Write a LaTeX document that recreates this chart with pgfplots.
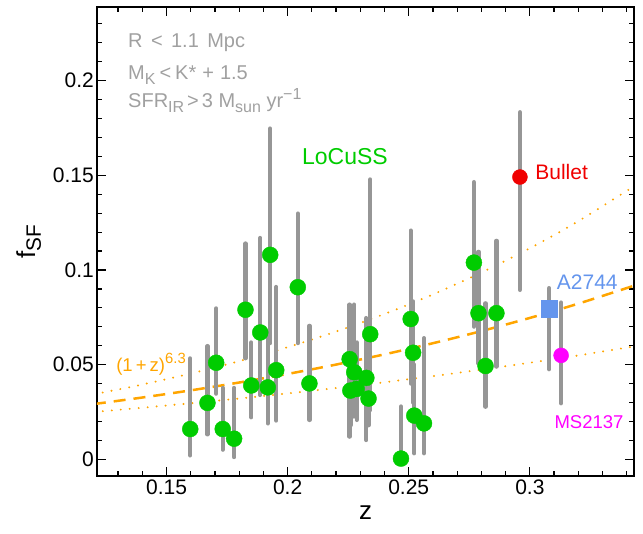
\documentclass[border=0pt]{standalone}
\usepackage{fontspec}
\setmainfont{Liberation Sans}
\usepackage{graphicx}
\usepackage{pgfplots}
\usepackage{pgfplotstable}
\pgfplotsset{compat=1.18}
\definecolor{ptgreen}{RGB}{0,204,0}
\definecolor{bargrey}{RGB}{150,150,150}
\definecolor{txtgrey}{RGB}{160,160,160}
\definecolor{curveorange}{RGB}{255,165,0}
\definecolor{bulletred}{RGB}{240,0,0}
\definecolor{ablue}{RGB}{100,149,237}
\definecolor{msmag}{RGB}{255,0,255}
\newcommand{\sub}[1]{\raisebox{-0.22em}{\scalebox{0.8}{#1}}}
\newcommand{\sups}[1]{\raisebox{0.42em}{\scalebox{0.8}{#1}}}

\pgfplotstableread{
z f lo hi
0.1598 0.0160 0.0021 0.0533
0.1669 0.0298 0.0132 0.0598
0.1705 0.0510 0.0347 0.0797
0.1732 0.0160 0.0051 0.0377
0.1779 0.0109 0.0012 0.0377
0.1826 0.0790 0.0534 0.1140
0.1850 0.0390 0.0222 0.0617
0.1887 0.0670 0.0340 0.1169
0.1918 0.0380 0.0190 0.0649
0.1928 0.1080 0.0614 0.1747
0.1953 0.0471 0.0205 0.0910
0.2042 0.0909 0.0614 0.1298
0.2090 0.0401 0.0208 0.0705
0.2256 0.0529 0.0120 0.0817
0.2275 0.0460 0.0226 0.0817
0.2259 0.0363 0.0180 0.0700
0.2285 0.0372 0.0208 0.0617
0.2325 0.0430 0.0102 0.0746
0.2334 0.0321 0.0180 0.0600
0.2341 0.0661 0.0260 0.1478
0.2468 0.0004 0.0004 0.0279
0.2508 0.0741 0.0400 0.1208
0.2518 0.0563 0.0300 0.0834
0.2523 0.0231 0.0032 0.0500
0.2563 0.0190 0.0032 0.0640
0.2769 0.1039 0.0701 0.1464
0.2788 0.0772 0.0507 0.1096
0.2817 0.0493 0.0278 0.0824
0.2862 0.0772 0.0490 0.1154
}\locuss

\pgfplotstableread{
z f lo hi
0.2959 0.1491 0.0895 0.1833
0.3080 0.0796 0.0476 0.0904
0.3129 0.0549 0.0296 0.0828
}\others

\begin{document}
\begin{tikzpicture}
\begin{axis}[
  at={(0pt,0pt)}, anchor=south west,
  scale only axis, width=537pt, height=469pt,
  xmin=0.1213, xmax=0.343, ymin=-0.0088, ymax=0.2389,
  xtick={0.15,0.2,0.25,0.3}, xticklabels={0.15,0.2,0.25,0.3},
  ytick={0,0.05,0.1,0.15,0.2}, yticklabels={0,0.05,0.1,0.15,0.2},
  minor xtick={0.13,0.14,0.16,0.17,0.18,0.19,0.21,0.22,0.23,0.24,0.26,0.27,0.28,0.29,0.31,0.32,0.33,0.34},
  minor ytick={0.01,0.02,0.03,0.04,0.06,0.07,0.08,0.09,0.11,0.12,0.13,0.14,0.16,0.17,0.18,0.19,0.21,0.22,0.23},
  tick align=inside, xtick pos=both, ytick pos=both,
  major tick length=9pt, minor tick length=5pt,
  every tick/.style={black, line width=1.2pt},
  axis line style={line width=1.8pt},
  ticklabel style={font=\fontsize{21}{24}\selectfont},
  yticklabel style={inner sep=3pt},
  xlabel={z}, ylabel={f\sub{SF}},
  xlabel style={font=\fontsize{26}{30}\selectfont, at={(axis description cs:0.5,-0.079)}, anchor=center},
  ylabel style={font=\fontsize{26}{30}\selectfont, at={(axis description cs:-0.127,0.5)}, anchor=center, rotate=0},
  clip=true,
]
% fit curves
\addplot[curveorange, line width=2.2pt, dash pattern=on 0pt off 9pt, line cap=round, smooth] coordinates {
(0.12,0.03435) (0.14,0.03950) (0.16,0.04532) (0.18,0.05187) (0.20,0.05923) (0.22,0.06750)
(0.24,0.07676) (0.26,0.08710) (0.28,0.09864) (0.30,0.11148) (0.32,0.12578) (0.345,0.14586)};
\addplot[curveorange, line width=2.2pt, dash pattern=on 0pt off 9pt, line cap=round, smooth] coordinates {
(0.12,0.02503) (0.14,0.02724) (0.16,0.02960) (0.18,0.03212) (0.20,0.03481) (0.22,0.03767)
(0.24,0.04071) (0.26,0.04395) (0.28,0.04738) (0.30,0.05103) (0.32,0.05489) (0.345,0.06004)};
\addplot[curveorange, line width=2.5pt, dash pattern=on 12pt off 8pt, smooth] coordinates {
(0.12,0.02920) (0.14,0.03265) (0.16,0.03643) (0.18,0.04057) (0.20,0.04510) (0.22,0.05005)
(0.24,0.05545) (0.26,0.06133) (0.28,0.06773) (0.30,0.07468) (0.32,0.08222) (0.345,0.09254)};
% error bars
\addplot[draw=none, mark=none, error bars/.cd, y dir=both, y explicit, error mark=none,
  error bar style={draw=bargrey, solid, line width=4.3pt, line cap=round}]
  table[x=z, y=f, y error plus expr=\thisrow{hi}-\thisrow{f}, y error minus expr=\thisrow{f}-\thisrow{lo}] {\locuss};
\addplot[draw=none, mark=none, error bars/.cd, y dir=both, y explicit, error mark=none,
  error bar style={draw=bargrey, solid, line width=4.3pt, line cap=round}]
  table[x=z, y=f, y error plus expr=\thisrow{hi}-\thisrow{f}, y error minus expr=\thisrow{f}-\thisrow{lo}] {\others};
% points
\addplot[only marks, mark=*, mark size=8pt, mark options={draw=ptgreen, fill=ptgreen}] table[x=z, y=f] {\locuss};
\addplot[only marks, mark=*, mark size=7.5pt, mark options={draw=bulletred, fill=bulletred}] coordinates {(0.2959,0.1491)};
\addplot[only marks, mark=square*, mark size=8.3pt, mark options={draw=ablue, fill=ablue}] coordinates {(0.3080,0.0796)};
\addplot[only marks, mark=*, mark size=7.5pt, mark options={draw=msmag, fill=msmag}] coordinates {(0.3129,0.0549)};
% annotations
\node[anchor=base west, text=txtgrey, font=\fontsize{20}{23}\selectfont, inner sep=0pt] at (axis cs:0.1341,0.2173) {R\hspace{0.42em}<\hspace{0.42em}1.1\hspace{0.42em}Mpc};
\node[anchor=base west, text=txtgrey, font=\fontsize{20}{23}\selectfont, inner sep=0pt] at (axis cs:0.1341,0.2005) {M\sub{K}\hspace{0.2em}<\hspace{0.2em}K*\hspace{0.3em}+\hspace{0.3em}1.5};
\node[anchor=base west, text=txtgrey, font=\fontsize{20}{23}\selectfont, inner sep=0pt] at (axis cs:0.1341,0.1856) {SFR\sub{IR}\hspace{0.15em}>\hspace{0.15em}3 M\sub{sun} yr\sups{−1}};
\node[anchor=base west, text=ptgreen, font=\fontsize{23}{26}\selectfont, inner sep=0pt] at (axis cs:0.2059,0.1556) {LoCuSS};
\node[anchor=base west, text=bulletred, font=\fontsize{21}{24}\selectfont, inner sep=0pt] at (axis cs:0.3022,0.1477) {Bullet};
\node[anchor=base west, text=ablue, font=\fontsize{21}{24}\selectfont, inner sep=0pt] at (axis cs:0.3111,0.0895) {A2744};
\node[anchor=base west, text=msmag, font=\fontsize{18.5}{22}\selectfont, inner sep=0pt] at (axis cs:0.3101,0.0164) {MS2137};
\node[anchor=base west, text=curveorange, font=\fontsize{18.5}{21}\selectfont, inner sep=0pt] at (axis cs:0.1292,0.0463) {(1\,+\,z)\sups{6.3}};
\end{axis}
\pgfresetboundingbox
\path[use as bounding box] (-97pt,-58pt) rectangle (546pt,476pt);
\end{tikzpicture}
\end{document}
